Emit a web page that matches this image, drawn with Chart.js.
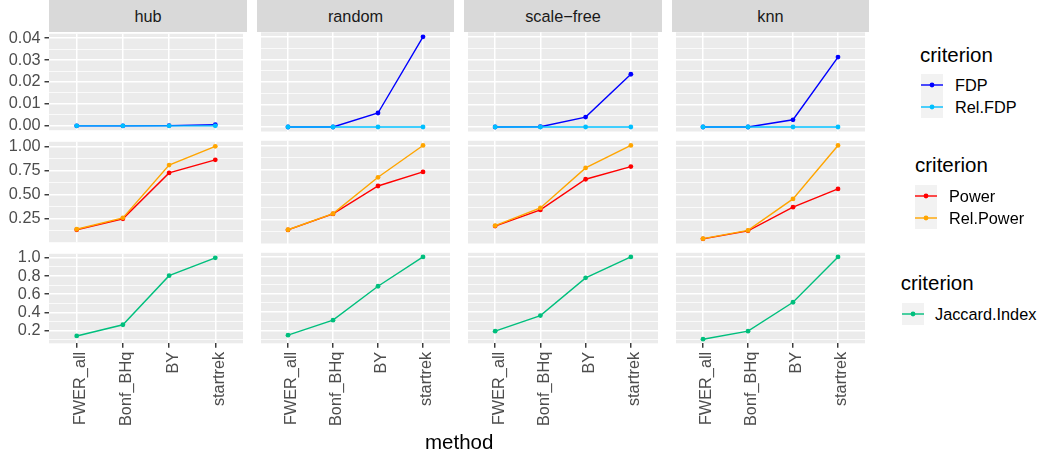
<!DOCTYPE html>
<html>
<head>
<meta charset="utf-8">
<script src="https://cdn.jsdelivr.net/npm/chart.js@4.4.1/dist/chart.umd.min.js"></script>
<style>
  body { margin: 0; background: #fff; font-family: "Liberation Sans", Arial, sans-serif; }
  #wrap { position: relative; width: 1039px; height: 454px; overflow: hidden; background: #fff; }
  .cell { position: absolute; }
  .strip { position: absolute; top: 0; background: #D9D9D9; color: #1A1A1A; font-size: 16.3px; text-align: center; }
  .legend { position: absolute; color: #000; font-weight: normal; }
  .legend.title { font-size: 20.5px; white-space: nowrap; line-height: 24px; }
  .legend.key { width: 22px; height: 22px; background: #F2F2F2; }
  .legend.key svg { display: block; }
  .legend.lab { font-size: 16.3px; white-space: nowrap; line-height: 22px; }
  #xtitle { position: absolute; font-size: 20.5px; color: #000; white-space: nowrap; }
</style>
</head>
<body>
<div id="wrap"></div>
<script>
// categories
const methods = ['FWER_all', 'Bonf_BHq', 'BY', 'startrek'];
const networks = ['hub', 'random', 'scale\u2212free', 'knn'];

// row 1: FDP / Rel.FDP  (hub, random, scale-free, knn)
const fdpHub       = [0, 0, 0.0001, 0.0005];
const fdpRandom    = [0, 0, 0.0062, 0.0400];
const fdpScaleFree = [0, 0.0001, 0.0044, 0.0234];
const fdpKnn       = [0, 0, 0.0032, 0.0310];
const relFdpHub       = [0, 0, 0, 0];
const relFdpRandom    = [0, 0, 0, 0];
const relFdpScaleFree = [0, 0, 0, 0];
const relFdpKnn       = [0, 0, 0, 0];

// row 2: Power / Rel.Power
const powerHub       = [0.137, 0.250, 0.725, 0.860];
const powerRandom    = [0.145, 0.307, 0.590, 0.732];
const powerScaleFree = [0.184, 0.348, 0.658, 0.786];
const powerKnn       = [0.055, 0.136, 0.375, 0.560];
const relPowerHub       = [0.142, 0.260, 0.806, 1.000];
const relPowerRandom    = [0.147, 0.310, 0.678, 1.000];
const relPowerScaleFree = [0.188, 0.368, 0.773, 1.000];
const relPowerKnn       = [0.057, 0.140, 0.459, 1.000];

// row 3: Jaccard.Index
const jaccardHub       = [0.141, 0.264, 0.804, 1.000];
const jaccardRandom    = [0.149, 0.312, 0.681, 1.000];
const jaccardScaleFree = [0.192, 0.362, 0.772, 1.000];
const jaccardKnn       = [0.105, 0.192, 0.507, 1.000];

// y tick labels per row
const fdpTicks = [0, 0.01, 0.02, 0.03, 0.04];
const fdpMinor = [0.005, 0.015, 0.025, 0.035];
const powerTicks = [0.25, 0.50, 0.75, 1.00];
const powerMinor = [0.125, 0.375, 0.625, 0.875];
const jaccardTicks = [0.2, 0.4, 0.6, 0.8, 1.0];
const jaccardMinor = [0.1, 0.3, 0.5, 0.7, 0.9];

const rows = [
  {
    series: [
      { name: 'FDP', color: '#0000FF', data: [fdpHub, fdpRandom, fdpScaleFree, fdpKnn] },
      { name: 'Rel.FDP', color: '#00BFFF', data: [relFdpHub, relFdpRandom, relFdpScaleFree, relFdpKnn] }
    ],
    major: fdpTicks, minor: fdpMinor, digits: 2
  },
  {
    series: [
      { name: 'Power', color: '#FF0000', data: [powerHub, powerRandom, powerScaleFree, powerKnn] },
      { name: 'Rel.Power', color: '#FFA500', data: [relPowerHub, relPowerRandom, relPowerScaleFree, relPowerKnn] }
    ],
    major: powerTicks, minor: powerMinor, digits: 2
  },
  {
    series: [
      { name: 'Jaccard.Index', color: '#00BF7D', data: [jaccardHub, jaccardRandom, jaccardScaleFree, jaccardKnn] }
    ],
    major: jaccardTicks, minor: jaccardMinor, digits: 1
  }
];

// panel geometry
const panelLeft = [49, 257, 464, 672];
const panelRight = [247, 454, 662, 869];
const rowTop = [32.3, 140.8, 252.8];
const rowBottom = [131.5, 243.5, 343.3];
const PAD = 12;
const bottomEdge = 432;

const wrap = document.getElementById('wrap');

const panelBg = {
  id: 'panelBg',
  beforeDraw(chart) {
    const a = chart.chartArea;
    const ctx = chart.ctx;
    ctx.save();
    ctx.fillStyle = '#EBEBEB';
    ctx.fillRect(a.left, a.top, a.right - a.left, a.bottom - a.top);
    ctx.restore();
  }
};

// strips
networks.forEach((n, c) => {
  const s = document.createElement('div');
  s.className = 'strip';
  s.style.left = panelLeft[c] + 'px';
  s.style.width = (panelRight[c] - panelLeft[c]) + 'px';
  s.style.height = rowTop[0] + 'px';
  s.style.lineHeight = rowTop[0] + 'px';
  s.textContent = n;
  wrap.appendChild(s);
});

function yRange(row) {
  let lo = Infinity, hi = -Infinity;
  row.series.forEach(s => s.data.forEach(arr => arr.forEach(v => {
    lo = Math.min(lo, v); hi = Math.max(hi, v);
  })));
  const e = (hi - lo) * 0.05;
  return [lo - e, hi + e];
}

rows.forEach((row, r) => {
  const [ymin, ymax] = yRange(row);
  const isBottom = r === rows.length - 1;
  const wTop = Math.floor(rowTop[r] - PAD);
  const wBottom = isBottom ? bottomEdge : Math.ceil(rowBottom[r] + PAD);

  networks.forEach((n, c) => {
    const isLeft = c === 0;
    const wLeft = isLeft ? 0 : panelLeft[c];
    const div = document.createElement('div');
    div.className = 'cell';
    div.style.left = wLeft + 'px';
    div.style.top = wTop + 'px';
    div.style.width = (panelRight[c] - wLeft) + 'px';
    div.style.height = (wBottom - wTop) + 'px';
    const cv = document.createElement('canvas');
    div.appendChild(cv);
    wrap.appendChild(div);

    const datasets = row.series.map((s, k) => ({
      label: s.name,
      data: s.data[c].map((v, i) => ({ x: i, y: v })),
      borderColor: s.color,
      backgroundColor: s.color,
      pointBackgroundColor: s.color,
      pointBorderWidth: 0,
      pointRadius: 2.4,
      borderWidth: 1.4,
      tension: 0,
      order: row.series.length - k
    }));

    new Chart(cv, {
      type: 'line',
      data: { datasets },
      plugins: [panelBg],
      options: {
        responsive: true,
        maintainAspectRatio: false,
        animation: false,
        events: [],
        layout: {
          padding: {
            left: 0, right: 0,
            top: rowTop[r] - wTop,
            bottom: isBottom ? 0 : wBottom - rowBottom[r]
          }
        },
        plugins: { legend: { display: false }, tooltip: { enabled: false } },
        scales: {
          x: {
            type: 'linear',
            min: -0.6, max: 3.6,
            bounds: 'data',
            afterBuildTicks: sc => { sc.ticks = methods.map((m, i) => ({ value: i })); },
            afterFit: sc => { sc.height = isBottom ? bottomEdge - rowBottom[r] : 0; },
            border: { display: false },
            grid: {
              color: '#FFFFFF', lineWidth: 1.5,
              drawTicks: isBottom, tickLength: 4.5, tickColor: '#333333', tickWidth: 1.4
            },
            ticks: {
              display: isBottom,
              autoSkip: false,
              minRotation: 90, maxRotation: 90,
              padding: 4,
              labelOffset: 4,
              color: '#4D4D4D',
              font: { family: '"Liberation Sans", Arial, sans-serif', size: 16.3 },
              callback: v => methods[v]
            }
          },
          y: {
            type: 'linear',
            min: ymin, max: ymax,
            bounds: 'data',
            afterBuildTicks: sc => {
              sc.ticks = row.major.map(v => ({ value: v, minor: false }))
                .concat(row.minor.map(v => ({ value: v, minor: true })))
                .sort((a, b) => a.value - b.value);
            },
            afterFit: sc => { sc.width = isLeft ? panelLeft[0] : 0; },
            border: { display: false },
            grid: {
              color: '#FFFFFF',
              lineWidth: ctx => (ctx.tick && ctx.tick.minor) ? 0.75 : 1.5,
              drawTicks: isLeft, tickLength: 4.5, tickWidth: 1.4,
              tickColor: ctx => (ctx.tick && ctx.tick.minor) ? 'rgba(0,0,0,0)' : '#333333'
            },
            ticks: {
              display: isLeft,
              autoSkip: false,
              padding: 4,
              color: '#4D4D4D',
              font: { family: '"Liberation Sans", Arial, sans-serif', size: 16.3 },
              callback: (v, i, ticks) => ticks[i].minor ? '' : v.toFixed(row.digits)
            }
          }
        }
      }
    });
  });
});

// x axis title
const xt = document.createElement('div');
xt.id = 'xtitle';
xt.textContent = 'method';
wrap.appendChild(xt);
xt.style.left = ((panelLeft[0] + panelRight[3]) / 2 - xt.offsetWidth / 2) + 'px';
xt.style.top = (441.5 - xt.offsetHeight / 2) + 'px';

// legends
const legendPos = [
  { titleX: 920, titleY: 55, keyX: 921, keyY: 74, labX: 955 },
  { titleX: 915, titleY: 165, keyX: 915.3, keyY: 185, labX: 949 },
  { titleX: 900.7, titleY: 283, keyX: 901.7, keyY: 302.7, labX: 935 }
];
rows.forEach((row, r) => {
  const p = legendPos[r];
  const t = document.createElement('div');
  t.className = 'legend title';
  t.style.left = p.titleX + 'px';
  t.style.top = (p.titleY - 12) + 'px';
  t.textContent = 'criterion';
  wrap.appendChild(t);
  row.series.forEach((s, k) => {
    const key = document.createElement('div');
    key.className = 'legend key';
    key.style.left = p.keyX + 'px';
    key.style.top = (p.keyY + k * 22) + 'px';
    key.innerHTML = '<svg width="22" height="22"><line x1="0" y1="11" x2="22" y2="11" stroke="' + s.color +
      '" stroke-width="1.4"/><circle cx="11" cy="11" r="2.4" fill="' + s.color + '"/></svg>';
    wrap.appendChild(key);
    const lab = document.createElement('div');
    lab.className = 'legend lab';
    lab.style.left = p.labX + 'px';
    lab.style.top = (p.keyY + k * 22) + 'px';
    lab.textContent = s.name;
    wrap.appendChild(lab);
  });
});
</script>
</body>
</html>
